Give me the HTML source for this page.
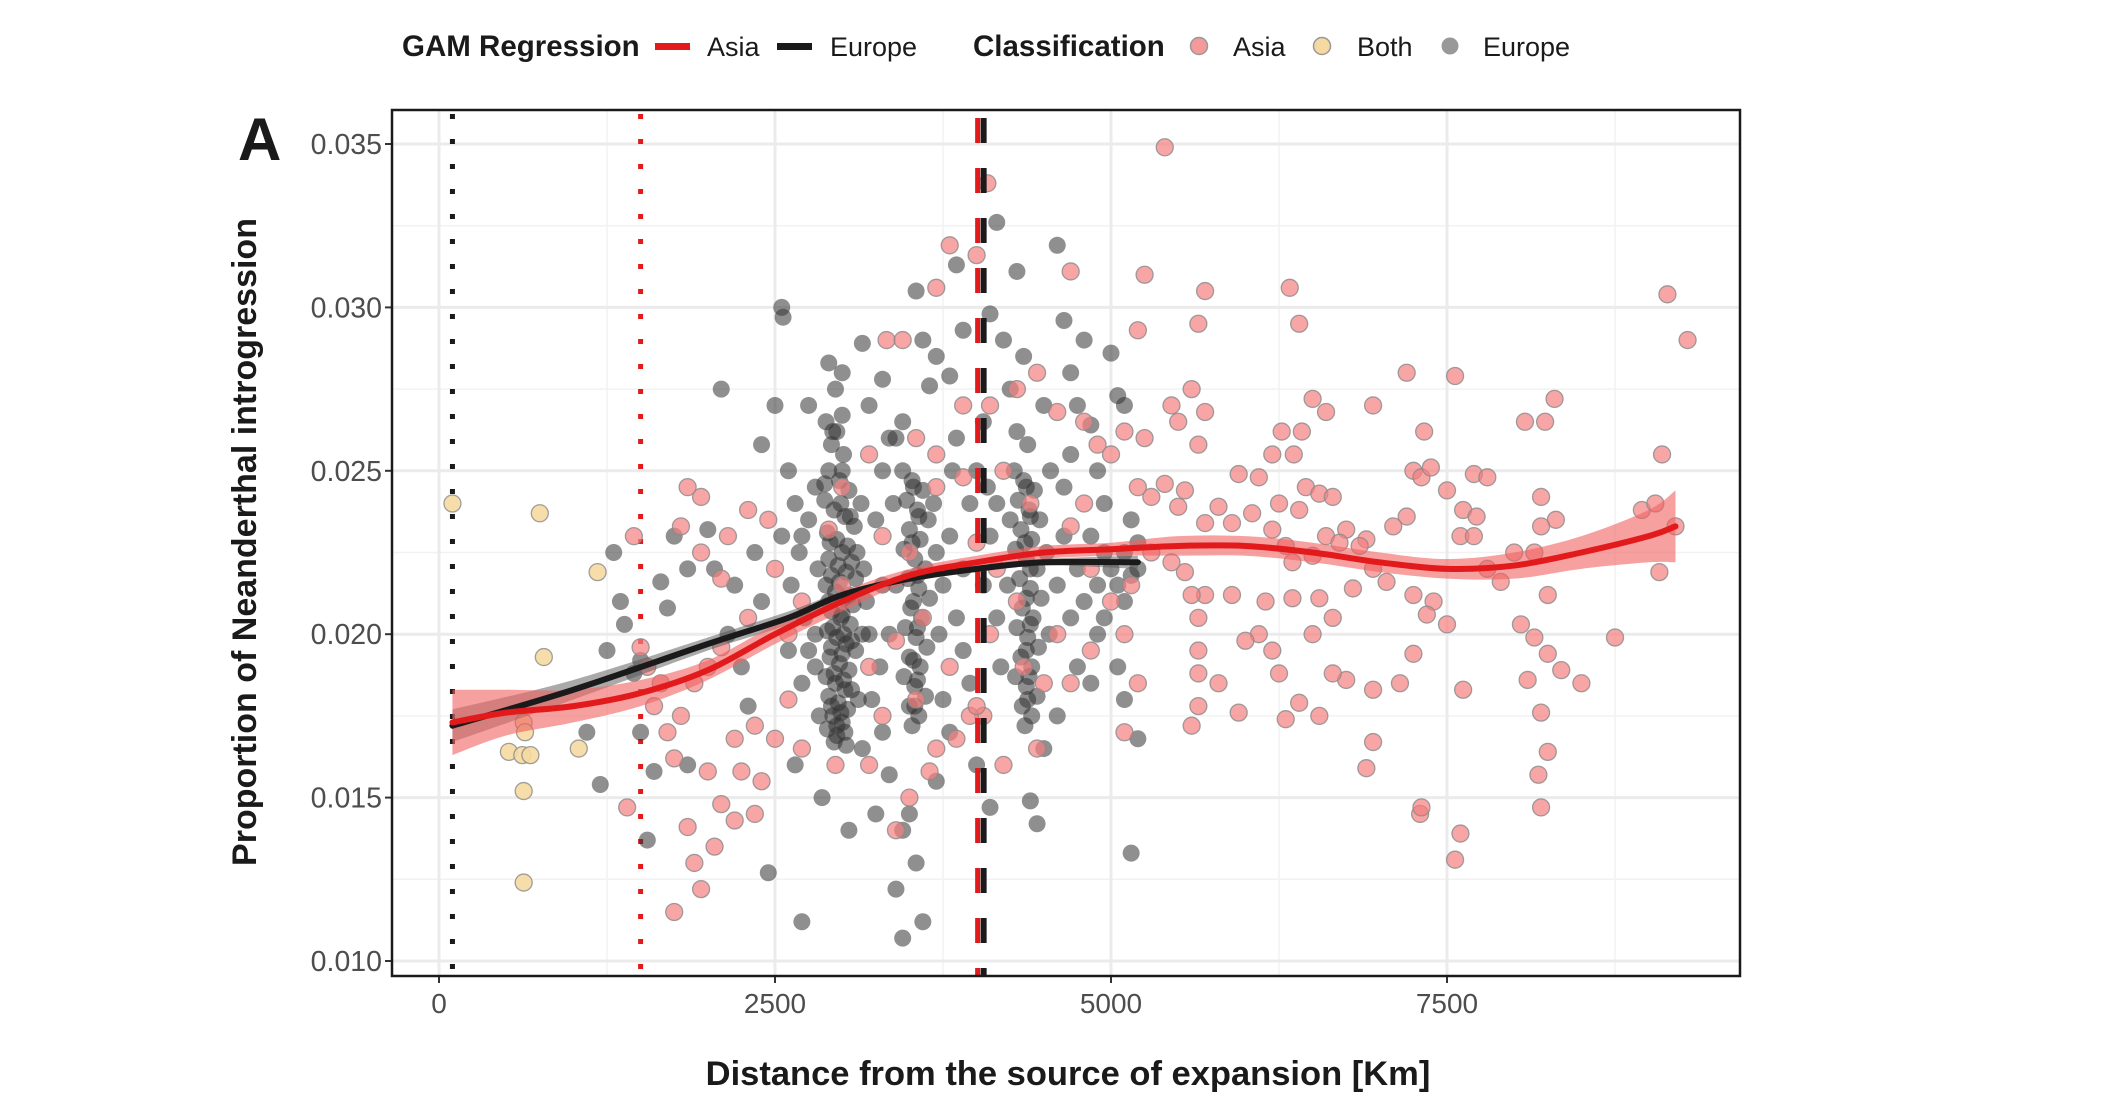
<!DOCTYPE html>
<html><head><meta charset="utf-8">
<style>
html,body{margin:0;padding:0;background:#fff;}
svg{display:block;font-family:"Liberation Sans",Arial,sans-serif;}
</style></head>
<body>
<svg id="chart" width="2124" height="1108" viewBox="0 0 2124 1108">
  <g>
    <text x="402" y="56" font-size="29.5" font-weight="bold" fill="#1a1a1a">GAM Regression</text>
    <rect x="655" y="43" width="35" height="7" fill="#e31a1c"/>
    <text x="707" y="56" font-size="27" fill="#1a1a1a">Asia</text>
    <rect x="777" y="43" width="35" height="7" fill="#1a1a1a"/>
    <text x="830" y="56" font-size="27" fill="#1a1a1a">Europe</text>
    <text x="973" y="56" font-size="29.5" font-weight="bold" fill="#1a1a1a">Classification</text>
    <circle cx="1199" cy="46" r="8.5" fill="#f49a9a" stroke="#999" stroke-width="1.5"/>
    <text x="1233" y="56" font-size="27" fill="#1a1a1a">Asia</text>
    <circle cx="1322" cy="46" r="8.5" fill="#f5d9a0" stroke="#999" stroke-width="1.5"/>
    <text x="1357" y="56" font-size="27" fill="#1a1a1a">Both</text>
    <circle cx="1450" cy="46" r="8.5" fill="#999"/>
    <text x="1483" y="56" font-size="27" fill="#1a1a1a">Europe</text>
  </g>
  <text x="238" y="160" font-size="60" font-weight="bold" fill="#1a1a1a">A</text>
  <g id="grid"></g>
  <g id="axes"></g>
  <g id="marks"></g>
  <rect x="392" y="110" width="1348" height="866" fill="none" stroke="#1a1a1a" stroke-width="2.5"/>
  <text x="1068" y="1085" font-size="34.5" font-weight="bold" text-anchor="middle" fill="#1a1a1a">Distance from the source of expansion [Km]</text>
  <text transform="translate(256,542) rotate(-90)" font-size="34" font-weight="bold" text-anchor="middle" fill="#1a1a1a">Proportion of Neanderthal introgression</text>
</svg>
<script>
const xTicks=[0,2500,5000,7500];
const xTickLabels=["0","2500","5000","7500"];
const yTicks=[0.010,0.015,0.020,0.025,0.030,0.035];
const yTickLabels=["0.010","0.015","0.020","0.025","0.030","0.035"];
const vlineDotted=[100,1500];
const vlineDashed=4030;

const bothPts=[[100,0.0240],[750,0.0237],[1180,0.0219],[780,0.0193],[630,0.0173],[640,0.0170],[520,0.0164],[620,0.0163],[680,0.0163],[1040,0.0165],[630,0.0152],[630,0.0124]];

const asiaPts=[[5400,0.0349],[5250,0.0310],[5700,0.0305],[6330,0.0306],[6400,0.0295],[5650,0.0295],[5200,0.0293],[9140,0.0304],[9290,0.0290],[4700,0.0311],[3700,0.0306],[3800,0.0319],[4080,0.0338],[4000,0.0316],[3330,0.0290],[3450,0.0290],[5450,0.0270],[5500,0.0265],[5600,0.0275],[5700,0.0268],[5650,0.0258],[6500,0.0272],[6600,0.0268],[6950,0.0270],[7200,0.0280],[7560,0.0279],[8080,0.0265],[8230,0.0265],[8300,0.0272],[9100,0.0255],[6270,0.0262],[6360,0.0255],[6420,0.0262],[6200,0.0255],[6100,0.0248],[5950,0.0249],[6450,0.0245],[6550,0.0243],[6650,0.0242],[7250,0.0250],[7310,0.0248],[7380,0.0251],[7330,0.0262],[7500,0.0244],[7700,0.0249],[7800,0.0248],[7620,0.0238],[7720,0.0236],[8200,0.0242],[8310,0.0235],[8200,0.0233],[7200,0.0236],[7100,0.0233],[6900,0.0229],[6750,0.0232],[6400,0.0238],[6250,0.0240],[6050,0.0237],[5800,0.0239],[5500,0.0239],[5550,0.0244],[5400,0.0246],[5300,0.0242],[5700,0.0234],[5900,0.0234],[6200,0.0232],[6300,0.0227],[6350,0.0222],[6500,0.0224],[6600,0.0230],[6700,0.0228],[6850,0.0227],[6950,0.0220],[7050,0.0216],[7250,0.0212],[7400,0.0210],[7600,0.0230],[7700,0.0230],[7800,0.0220],[7900,0.0216],[8000,0.0225],[8150,0.0225],[8250,0.0212],[8150,0.0199],[8050,0.0203],[8100,0.0186],[8250,0.0194],[8350,0.0189],[8500,0.0185],[8750,0.0199],[8950,0.0238],[9050,0.0240],[9080,0.0219],[9200,0.0233],[8200,0.0176],[8250,0.0164],[8180,0.0157],[8200,0.0147],[7620,0.0183],[7500,0.0203],[7350,0.0206],[7250,0.0194],[7150,0.0185],[6950,0.0183],[6950,0.0167],[6900,0.0159],[7300,0.0145],[7310,0.0147],[7600,0.0139],[7560,0.0131],[6750,0.0186],[6650,0.0188],[6550,0.0175],[6400,0.0179],[6300,0.0174],[6250,0.0188],[6200,0.0195],[6100,0.0200],[6000,0.0198],[5950,0.0176],[5800,0.0185],[5650,0.0188],[5650,0.0178],[5600,0.0172],[5650,0.0195],[5650,0.0205],[5700,0.0212],[5600,0.0212],[5900,0.0212],[6150,0.0210],[6350,0.0211],[6550,0.0211],[6500,0.0200],[6650,0.0205],[6800,0.0214],[5550,0.0219],[5450,0.0222],[5300,0.0225],[5150,0.0215],[5100,0.0200],[5200,0.0185],[5100,0.0170],[5250,0.0260],[5200,0.0245],[4800,0.0240],[4700,0.0233],[4850,0.0220],[4600,0.0200],[4500,0.0185],[4450,0.0165],[4200,0.0160],[4050,0.0175],[3950,0.0175],[3850,0.0168],[3700,0.0165],[3650,0.0158],[3500,0.0150],[3400,0.0140],[3200,0.0160],[2950,0.0160],[2700,0.0165],[2600,0.0180],[2400,0.0155],[2350,0.0145],[2250,0.0158],[2100,0.0148],[2000,0.0158],[1900,0.0130],[1850,0.0141],[1750,0.0115],[1950,0.0122],[2050,0.0135],[2200,0.0143],[1600,0.0178],[1700,0.0170],[1750,0.0162],[1800,0.0175],[1900,0.0185],[2000,0.0190],[2100,0.0196],[2200,0.0168],[2350,0.0172],[2500,0.0168],[2600,0.0200],[2700,0.0210],[2450,0.0235],[2300,0.0238],[2150,0.0230],[1950,0.0242],[1850,0.0245],[1800,0.0233],[1950,0.0225],[2100,0.0217],[2300,0.0205],[2500,0.0220],[1400,0.0147],[1500,0.0196],[1550,0.0190],[1650,0.0185],[1450,0.0230],[3000,0.0215],[3300,0.0230],[3500,0.0225],[3700,0.0245],[3900,0.0270],[4100,0.0270],[4300,0.0275],[4450,0.0280],[4600,0.0268],[4800,0.0265],[5000,0.0255],[5100,0.0262],[4900,0.0258],[3200,0.0255],[3000,0.0245],[2900,0.0232],[3550,0.0260],[3700,0.0255],[3900,0.0248],[4200,0.0250],[4400,0.0240],[4000,0.0228],[4150,0.0220],[4300,0.0210],[4100,0.0200],[3800,0.0190],[3600,0.0205],[3400,0.0198],[3200,0.0190],[4700,0.0185],[4850,0.0195],[5000,0.0210],[3300,0.0175],[3550,0.0180],[4000,0.0178],[4350,0.0190]];

const europePts=[[1100,0.0170],[1200,0.0154],[1250,0.0195],[1300,0.0225],[1350,0.0210],[1380,0.0203],[1450,0.0188],[1500,0.0192],[1500,0.0170],[1550,0.0137],[1600,0.0158],[1650,0.0216],[1700,0.0208],[1750,0.0230],[1850,0.0220],[1850,0.0160],[2000,0.0232],[2050,0.0220],[2100,0.0275],[2150,0.0200],[2200,0.0215],[2250,0.0190],[2300,0.0178],[2400,0.0258],[2450,0.0127],[2500,0.0270],[2550,0.0300],[2560,0.0297],[2600,0.0250],[2650,0.0160],[2700,0.0112],[2750,0.0270],[2800,0.0245],[2800,0.0200],[2850,0.0150],[2900,0.0283],[3000,0.0267],[3050,0.0140],[3150,0.0289],[3200,0.0270],[3250,0.0145],[3300,0.0278],[3350,0.0157],[3400,0.0122],[3450,0.0107],[3450,0.0140],[3500,0.0145],[3550,0.0130],[3600,0.0112],[3550,0.0305],[3600,0.0290],[3650,0.0276],[3700,0.0285],[3800,0.0279],[3850,0.0313],[3900,0.0293],[4050,0.0265],[4100,0.0298],[4150,0.0326],[4200,0.0290],[4250,0.0275],[4300,0.0311],[4350,0.0285],[4400,0.0149],[4450,0.0142],[4500,0.0270],[4600,0.0319],[4650,0.0296],[4700,0.0280],[4750,0.0270],[4800,0.0290],[4850,0.0264],[4900,0.0250],[4950,0.0240],[5000,0.0286],[5050,0.0273],[5100,0.0270],[5150,0.0133],[5200,0.0168],[5100,0.0180],[5050,0.0190],[5200,0.0220],[5150,0.0235],[4100,0.0147],[4000,0.0160],[3700,0.0155],[3300,0.0170],
[2880,0.0265],[2920,0.0258],[2960,0.0262],[3010,0.0255],[2900,0.0250],[2980,0.0247],[3050,0.0244],[2870,0.0241],[2940,0.0238],[3020,0.0236],[3090,0.0233],[2890,0.0231],[2960,0.0229],[3040,0.0227],[3110,0.0225],[2900,0.0223],[2970,0.0221],[3030,0.0219],[3100,0.0217],[2880,0.0215],[2950,0.0213],[3010,0.0211],[3080,0.0209],[2920,0.0207],[2990,0.0205],[3060,0.0203],[2890,0.0201],[2960,0.0199],[3030,0.0197],[3100,0.0195],[2910,0.0193],[2980,0.0191],[3050,0.0189],[2880,0.0187],[2950,0.0185],[3020,0.0183],[2900,0.0181],[2970,0.0179],[3040,0.0177],[2930,0.0175],[3000,0.0173],[2890,0.0171],[2960,0.0169],[3030,0.0166],[3120,0.0180],[3150,0.0200],[3160,0.0220],[3140,0.0240],[2820,0.0220],[2800,0.0190],[2830,0.0175],[3180,0.0210],
[2930,0.0262],[3000,0.0250],[2870,0.0246],[2990,0.0240],[3060,0.0236],[2910,0.0228],[3000,0.0225],[3070,0.0222],[2920,0.0218],[2980,0.0216],[3050,0.0212],[2900,0.0210],[3000,0.0206],[2930,0.0202],[3010,0.0200],[3070,0.0198],[2920,0.0196],[3000,0.0194],[2940,0.0188],[3010,0.0186],[3070,0.0183],[2920,0.0178],[2990,0.0176],[2960,0.0172],[3020,0.0170],[2940,0.0167],
[3450,0.0250],[3520,0.0247],[3600,0.0244],[3480,0.0241],[3560,0.0238],[3640,0.0235],[3500,0.0232],[3580,0.0229],[3460,0.0226],[3540,0.0223],[3620,0.0220],[3490,0.0217],[3570,0.0214],[3650,0.0211],[3510,0.0208],[3590,0.0205],[3470,0.0202],[3550,0.0199],[3630,0.0196],[3500,0.0193],[3580,0.0190],[3460,0.0187],[3540,0.0184],[3620,0.0181],[3500,0.0178],[3570,0.0175],[3520,0.0172],[3700,0.0225],[3720,0.0200],[3400,0.0215],[3680,0.0240],
[3530,0.0245],[3570,0.0236],[3520,0.0228],[3560,0.0218],[3530,0.0210],[3560,0.0202],[3530,0.0192],[3560,0.0186],[3540,0.0178],
[4280,0.0250],[4350,0.0247],[4430,0.0244],[4310,0.0241],[4390,0.0238],[4470,0.0235],[4330,0.0232],[4410,0.0229],[4290,0.0226],[4370,0.0223],[4450,0.0220],[4320,0.0217],[4400,0.0214],[4480,0.0211],[4340,0.0208],[4420,0.0205],[4300,0.0202],[4380,0.0199],[4460,0.0196],[4330,0.0193],[4410,0.0190],[4290,0.0187],[4370,0.0184],[4450,0.0181],[4340,0.0178],[4410,0.0175],[4360,0.0172],[4520,0.0225],[4540,0.0200],[4230,0.0215],[4250,0.0235],
[4370,0.0245],[4400,0.0236],[4360,0.0228],[4400,0.0220],[4370,0.0211],[4400,0.0203],[4370,0.0195],[4390,0.0187],[4380,0.0180],
[2550,0.0230],[2620,0.0215],[2680,0.0225],[2720,0.0205],[2750,0.0235],[2600,0.0195],[2700,0.0185],[3250,0.0235],[3300,0.0215],[3350,0.0200],[3280,0.0190],[3380,0.0240],[3300,0.0250],[3750,0.0215],[3800,0.0230],[3850,0.0205],[3900,0.0220],[3950,0.0240],[3820,0.0250],[3900,0.0195],[3950,0.0185],[4050,0.0215],[4100,0.0230],[4150,0.0205],[4080,0.0245],[4180,0.0190],[4600,0.0215],[4650,0.0230],[4700,0.0205],[4750,0.0220],[4800,0.0210],[4850,0.0230],[4900,0.0215],[4950,0.0225],[5000,0.0220],[5050,0.0215],[5100,0.0225],[4650,0.0245],[4750,0.0190],[4900,0.0200],[4600,0.0175],[3200,0.0200],[3220,0.0180],[3750,0.0180],[3800,0.0170],[2750,0.0195],[2650,0.0240],[3400,0.0260],[3450,0.0265],[4300,0.0262],[4380,0.0258],[3000,0.0280],[2950,0.0275],
[5200,0.0228],[5150,0.0218],[5100,0.0210],[4950,0.0205],[4850,0.0185],[4700,0.0255],[4550,0.0250],[4500,0.0165],[3150,0.0165],[2700,0.0230],[2400,0.0210],[2350,0.0225],[3350,0.0260],[3850,0.0260],[4000,0.0250],[4150,0.0240]];

const asiaFitX=[100,500,1000,1500,2000,2500,3000,3500,4000,4500,5000,5500,6000,6500,7000,7500,8000,8500,9000,9200];
const asiaFitY=[0.0173,0.0176,0.0178,0.0182,0.0189,0.0200,0.0210,0.0218,0.0222,0.0225,0.0226,0.0227,0.0227,0.0225,0.0222,0.0220,0.0221,0.0225,0.0230,0.0233];
const asiaFitSE=[0.0010,0.0007,0.0005,0.0004,0.0003,0.0003,0.0003,0.0002,0.0002,0.0002,0.0002,0.0003,0.0003,0.0003,0.0003,0.0003,0.0004,0.0005,0.0008,0.0011];
const euFitX=[100,1000,2000,2600,3000,3500,4000,4500,5200];
const euFitY=[0.0172,0.0183,0.0197,0.0205,0.0212,0.0217,0.0220,0.0222,0.0222];
const euFitSE=[0.0005,0.0003,0.0002,0.0002,0.0001,0.0001,0.0001,0.0001,0.0002];

const X0=439, XS=336/2500, Y0=144, YS=163.4/0.005;
const PL=392, PR=1740, PT=110, PB=976;
function sx(v){return X0+v*XS;}
function sy(v){return Y0+(0.035-v)*YS;}
const NS='http://www.w3.org/2000/svg';
function mk(tag,attrs,parent){const e=document.createElementNS(NS,tag);for(const k in attrs)e.setAttribute(k,attrs[k]);parent.appendChild(e);return e;}
const grid=document.getElementById('grid'), axes=document.getElementById('axes'), marks=document.getElementById('marks');
for(let i=0;i<xTicks.length;i++){const v=xTicks[i]+1250;if(sx(v)<PR){const l=mk('line',{x1:sx(v),x2:sx(v),y1:PT,y2:PB,stroke:'#f2f2f2','stroke-width':1.5},grid);

}}
for(let i=0;i<yTicks.length-1;i++){const v=yTicks[i]+0.0025;const l=mk('line',{x1:PL,x2:PR,y1:sy(v),y2:sy(v),stroke:'#f2f2f2','stroke-width':1.5},grid);

}
xTicks.forEach((v,i)=>{const l=mk('line',{x1:sx(v),x2:sx(v),y1:PT,y2:PB,stroke:'#ebebeb','stroke-width':3},grid);


const t=mk('line',{x1:sx(v),x2:sx(v),y1:PB,y2:PB+7,stroke:'#333','stroke-width':2},axes);


const tx=mk('text',{x:sx(v),y:1013,'font-size':28,'text-anchor':'middle',fill:'#4d4d4d'},axes);tx.textContent=xTickLabels[i];

});
yTicks.forEach((v,i)=>{const l=mk('line',{x1:PL,x2:PR,y1:sy(v),y2:sy(v),stroke:'#ebebeb','stroke-width':3},grid);


const t=mk('line',{x1:PL-7,x2:PL,y1:sy(v),y2:sy(v),stroke:'#333','stroke-width':2},axes);


const tx=mk('text',{x:PL-10,y:sy(v)+10,'font-size':28.5,'text-anchor':'end',fill:'#4d4d4d'},axes);tx.textContent=yTickLabels[i];

});
vlineDotted.forEach((v,i)=>{const l=mk('line',{x1:sx(v),x2:sx(v),y1:114,y2:PB,stroke:i===0?'#1a1a1a':'#e31a1c','stroke-width':5,'stroke-dasharray':'5 20'},marks);

});
function dots(arr,fill,stroke,op,name){arr.forEach(p=>{const c=mk('circle',{cx:sx(p[0]),cy:sy(p[1]),r:8.5,fill:fill,'fill-opacity':op,stroke:stroke,'stroke-opacity':stroke==='none'?0:0.8,'stroke-width':1.3},marks);

});}
dots(europePts,'#333','none',0.55,'europe-point');
dots(asiaPts,'#f47f7f','#8a8a8a',0.7,'asia-point');
dots(bothPts,'#f5d9a0','#8a8a8a',0.9,'both-point');
const d1=mk('line',{x1:sx(vlineDashed)-3,x2:sx(vlineDashed)-3,y1:118,y2:PB,stroke:'#e31a1c','stroke-width':5,'stroke-dasharray':'25 25'},marks);


const d2=mk('line',{x1:sx(vlineDashed)+3,x2:sx(vlineDashed)+3,y1:118,y2:PB,stroke:'#1a1a1a','stroke-width':6,'stroke-dasharray':'25 25'},marks);


function smooth(pts){let d='M'+pts[0][0]+','+pts[0][1];for(let i=0;i<pts.length-1;i++){const p0=pts[Math.max(0,i-1)],p1=pts[i],p2=pts[i+1],p3=pts[Math.min(pts.length-1,i+2)];
d+=' C'+(p1[0]+(p2[0]-p0[0])/6)+','+(p1[1]+(p2[1]-p0[1])/6)+' '+(p2[0]-(p3[0]-p1[0])/6)+','+(p2[1]-(p3[1]-p1[1])/6)+' '+p2[0]+','+p2[1];}return d;}
function band(xs,ys,se,fill,op,name){const up=xs.map((x,i)=>[sx(x),sy(ys[i]+se[i])]);const lo=xs.map((x,i)=>[sx(x),sy(ys[i]-se[i])]).reverse();
let d=smooth(up)+' L'+lo[0][0]+','+lo[0][1]+smooth(lo).replace(/^M[^ ]+/,'')+' Z';
const p=mk('path',{d:d,fill:fill,'fill-opacity':op,stroke:'none'},marks);

}
function line(xs,ys,col,name){const p=mk('path',{d:smooth(xs.map((x,i)=>[sx(x),sy(ys[i])])),fill:'none',stroke:col,'stroke-width':6,'stroke-linecap':'round'},marks);

}
band(euFitX,euFitY,euFitSE,'#555',0.5,'europe-fit-ci');
band(asiaFitX,asiaFitY,asiaFitSE,'#f06060',0.6,'asia-fit-ci');
line(euFitX,euFitY,'#1a1a1a','europe-fit-line');
line(asiaFitX,asiaFitY,'#e31a1c','asia-fit-line');
</script>
</body></html>
